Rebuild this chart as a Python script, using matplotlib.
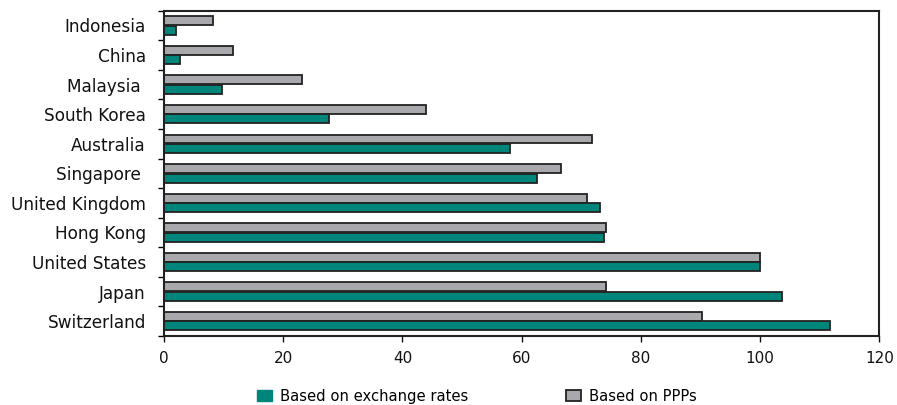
import matplotlib
matplotlib.use("Agg")
import matplotlib.pyplot as plt
from matplotlib.patches import Patch
import numpy as np

# Price levels by country (United States = 100)
paises = ["Indonesia", "China", "Malaysia ", "South Korea", "Australia",
          "Singapore ", "United Kingdom", "Hong Kong", "United States",
          "Japan", "Switzerland"]
tipo_cambio = [2.0, 2.7, 9.7, 27.7, 58.0, 62.6, 73.1, 73.8, 100.0, 103.7, 111.7]
ppp = [8.2, 11.5, 23.1, 44.0, 71.8, 66.6, 70.9, 74.2, 100.0, 74.2, 90.2]

color_cambio = "#00857a"
color_ppp = "#a9a9ad"
borde = "#222222"

fig = plt.figure(figsize=(8.97, 4.05), dpi=100)
ax = fig.add_axes([0.1828, 0.1704, 0.7975, 0.8032])

y = np.arange(len(paises))
alto = 0.3
ax.barh(y - alto / 2 - 0.01, ppp, height=alto, color=color_ppp,
        edgecolor=borde, linewidth=1.3)
ax.barh(y + alto / 2 + 0.01, tipo_cambio, height=alto, color=color_cambio,
        edgecolor=borde, linewidth=1.3)

ax.set_ylim(len(paises) - 0.5, -0.5)
ax.set_xlim(0, 120)
ax.set_xticks(range(0, 121, 20))
ax.tick_params(axis="x", direction="out", length=4, width=1, pad=7,
               labelsize=11, colors="#111111")

# marks between categories, labels centred on each pair of bars
ax.set_yticks(np.arange(len(paises) + 1) - 0.5)
ax.set_yticklabels([])
ax.tick_params(axis="y", which="major", direction="out", length=4, width=1)
ax.set_yticks(y, minor=True)
ax.set_yticklabels(paises, minor=True)
ax.tick_params(axis="y", which="minor", length=0, pad=13, labelsize=12.2,
               colors="#111111")

for lado in ax.spines.values():
    lado.set_linewidth(1.5)
    lado.set_color("#222222")

leyenda = [Patch(facecolor=color_cambio, edgecolor=color_cambio,
                 label="Based on exchange rates"),
           Patch(facecolor=color_ppp, edgecolor=borde, linewidth=1.3,
                 label="Based on PPPs")]
fig.legend(handles=leyenda, loc="center left", bbox_to_anchor=(0.286, 0.022),
           ncol=2, frameon=False, fontsize=10.6, handlelength=1.05,
           handleheight=0.85, handletextpad=0.55, columnspacing=6.6,
           borderpad=0, borderaxespad=0)

fig.savefig("out.png", dpi=100)
